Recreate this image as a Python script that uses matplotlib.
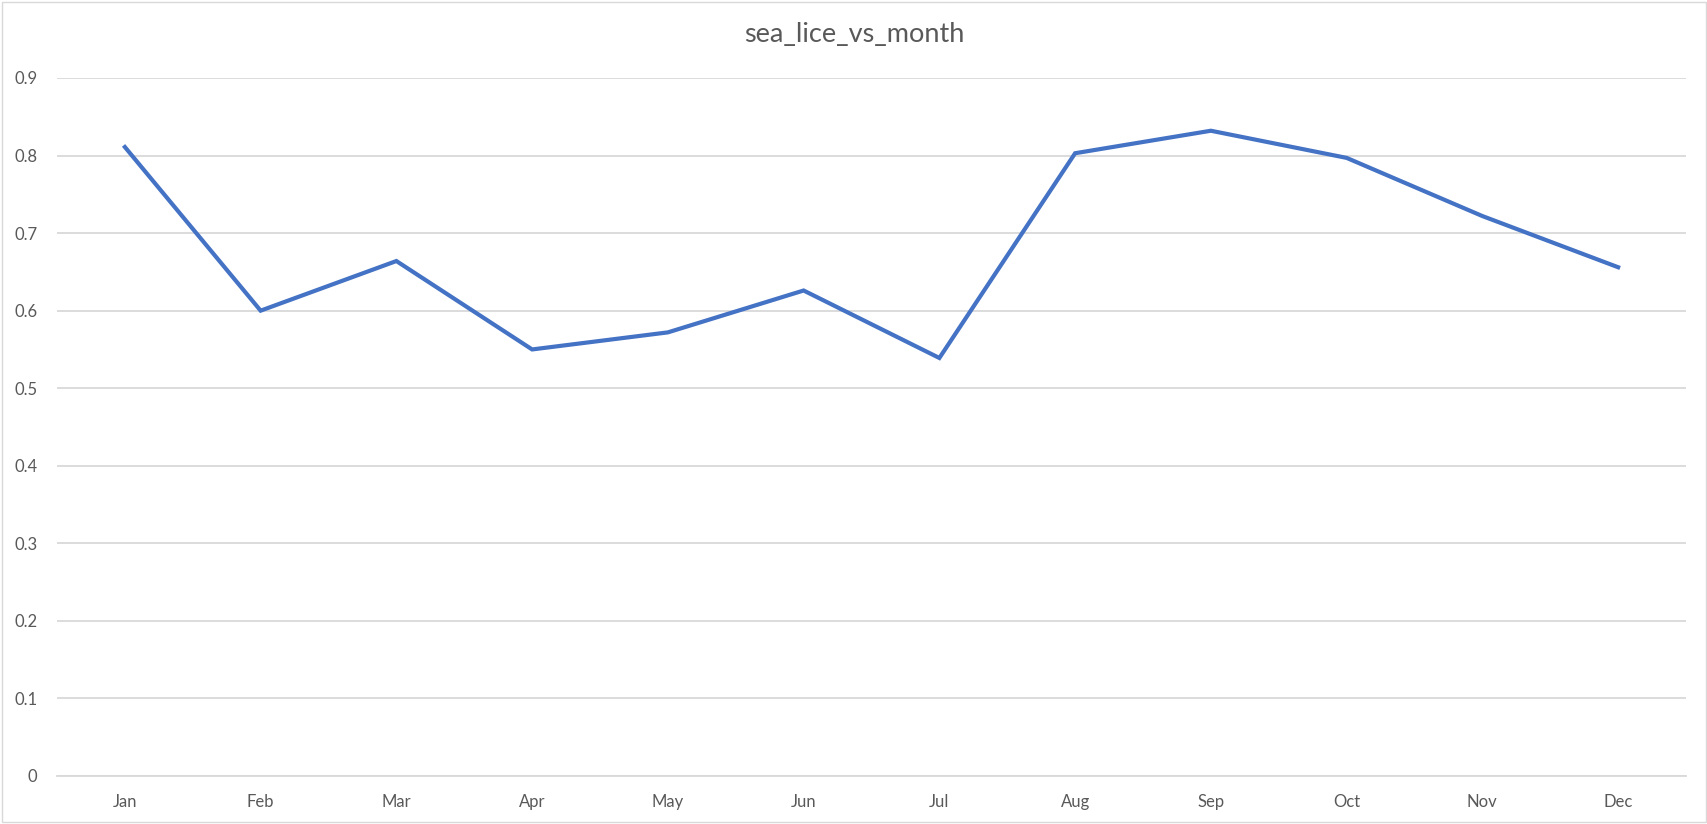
import matplotlib
matplotlib.use("Agg")
import matplotlib.pyplot as plt
from matplotlib.patches import Rectangle

months = ["Jan", "Feb", "Mar", "Apr", "May", "Jun", "Jul", "Aug", "Sep", "Oct", "Nov", "Dec"]
sea_lice = [0.811, 0.600, 0.664, 0.550, 0.572, 0.626, 0.539, 0.803, 0.832, 0.797, 0.722, 0.656]
yticks = [0, 0.1, 0.2, 0.3, 0.4, 0.5, 0.6, 0.7, 0.8, 0.9]
ytick_labels = ["0", "0.1", "0.2", "0.3", "0.4", "0.5", "0.6", "0.7", "0.8", "0.9"]
title = "sea_lice_vs_month"

plt.rcParams['font.family'] = ['Lato', 'DejaVu Sans']

fig = plt.figure(figsize=(17.08, 8.24), dpi=100)
ax = fig.add_axes([57/1708, 1 - 776/824, (1686 - 57)/1708, (776 - 78)/824])

x = list(range(len(months)))
ax.plot(x, sea_lice, color="#4472C4", linewidth=3.0, solid_joinstyle="miter", zorder=3)

ax.set_xlim(-0.5, len(months) - 0.5)
ax.set_ylim(0, 0.9)
ax.set_yticks(yticks)
ax.set_yticklabels(ytick_labels)
ax.set_xticks(x)
ax.set_xticklabels(months)
ax.grid(axis="y", color="#D9D9D9", linewidth=1.3)
ax.set_axisbelow(True)
for s in ["top", "right", "left"]:
    ax.spines[s].set_visible(False)
ax.spines["bottom"].set_color("#D9D9D9")
ax.spines["bottom"].set_linewidth(1.3)
ax.tick_params(axis="both", length=0, colors="#595959", labelsize=12)
ax.tick_params(axis="y", pad=14)
ax.tick_params(axis="x", pad=13)

fig.text(0.5, 1 - 35/824, title, ha="center", va="center", fontsize=19.5, color="#595959")

fig.patches.append(Rectangle((2/1708, 2/824), 1 - 4/1708, 1 - 4/824, transform=fig.transFigure,
                             fill=False, edgecolor="#D9D9D9", linewidth=1.0))

fig.savefig("out.png", dpi=100)
